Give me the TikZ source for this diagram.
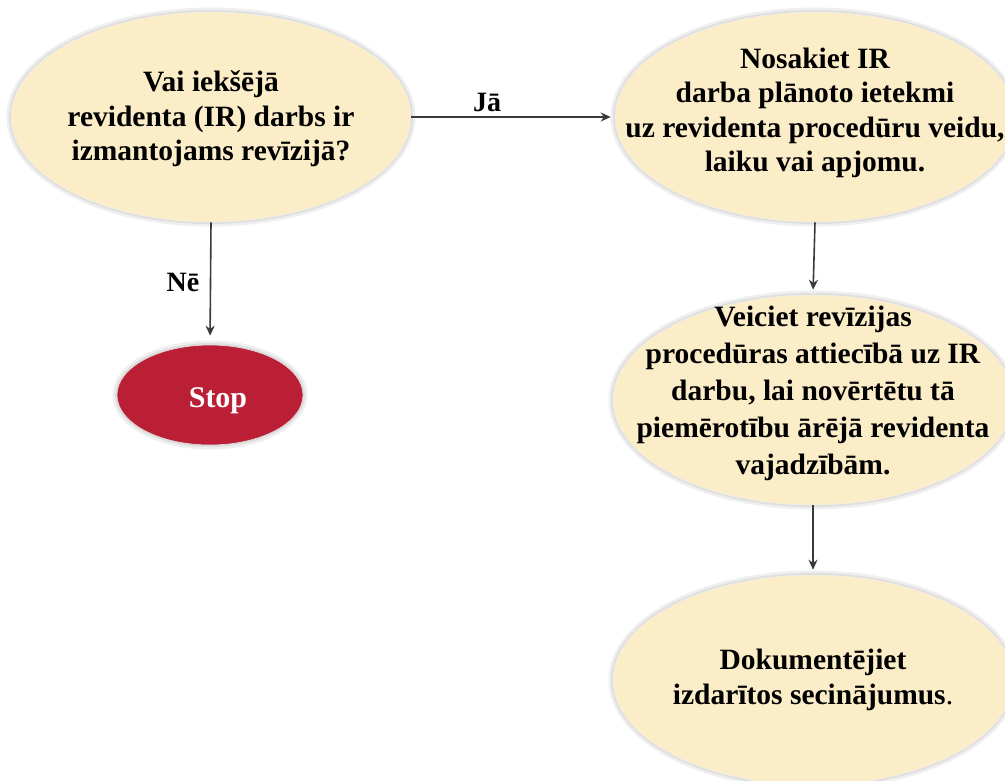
\documentclass[tikz,border=0pt]{standalone}
\usepackage{fontspec}
\setmainfont{Liberation Serif}
\usetikzlibrary{shapes.geometric,arrows.meta}
\definecolor{cream}{HTML}{FBEDC8}
\definecolor{stopred}{HTML}{BA1F35}
\definecolor{linegray}{HTML}{3A3A3A}
\tikzset{
  halo/.style={draw=black!25, line width=5pt, opacity=0.25},
  haloin/.style={draw=black!25, line width=2pt, opacity=0.35},
  bubble/.style={ellipse, fill=cream, draw=black!8, line width=0.6pt, inner sep=0pt,
    minimum width=400pt, minimum height=210pt},
  stopbox/.style={ellipse, fill=stopred, draw=black!12, line width=0.6pt, inner sep=0pt,
    minimum width=186pt, minimum height=100pt},
  words/.style={align=center, inner sep=0pt,
    font=\fontsize{29.5}{34.5}\selectfont\bfseries},
  stopword/.style={text=white, inner sep=0pt, font=\fontsize{30}{34}\selectfont\bfseries},
  link/.style={draw=linegray, line width=1.6pt, -{Stealth[length=10pt,width=9pt]}},
  tag/.style={font=\fontsize{28}{32}\selectfont\bfseries}
}
\begin{document}
\begin{tikzpicture}[x=1pt,y=-1pt]
\useasboundingbox (0,0) rectangle (1005,780);
% soft shading round the bubbles
\foreach \cx/\cy/\rx/\ry in {211/117/200/105, 815/117/200/105, 813/400/200/105, 813/680/200/105, 210/395/93/50}{
  \draw[halo] (\cx,\cy) ellipse [x radius=\rx+2, y radius=\ry+2];
  \draw[haloin] (\cx,\cy) ellipse [x radius=\rx+1, y radius=\ry+1];
}

\node[bubble] (q) at (211,117) {};
\node[bubble] (plan) at (815,117) {};
\node[bubble] (proc) at (813,400) {};
\node[bubble] (doc) at (813,680) {};
\node[stopbox] (stop) at (210,395) {};

\node[words] (qt) at ([yshift=-2pt]q.center) {Vai iekšējā\\revidenta (IR) darbs ir\\izmantojams revīzijā?};
\node[words] (plant) at ([yshift=4pt]plan.center) {Nosakiet IR\\darba plānoto ietekmi\\uz revidenta procedūru veidu,\\laiku vai apjomu.};
\node[words, font=\fontsize{29.5}{37}\selectfont\bfseries] (proct) at ([yshift=7pt]proc.center) {Veiciet revīzijas\\procedūras attiecībā uz IR\\darbu, lai novērtētu tā\\piemērotību ārējā revidenta\\vajadzībām.};
\node[words] (doct) at (doc.center) {Dokumentējiet\\izdarītos secinājumus{\mdseries.}};
\node[stopword] (stopt) at ([xshift=8pt,yshift=-6pt]stop.center) {Stop};

\draw[link, shorten >=4pt] (q.east) -- (plan.west);
\draw[link, shorten >=9pt] (q.south) -- (stop.north);
\draw[link, shorten >=5pt] (plan.south) -- (proc.north);
\draw[link, shorten >=5pt] (proc.south) -- (doc.north);

\node[tag] (ja) at (487,102) {Jā};
\node[tag] (ne) at (183,282) {Nē};
\end{tikzpicture}
\end{document}
